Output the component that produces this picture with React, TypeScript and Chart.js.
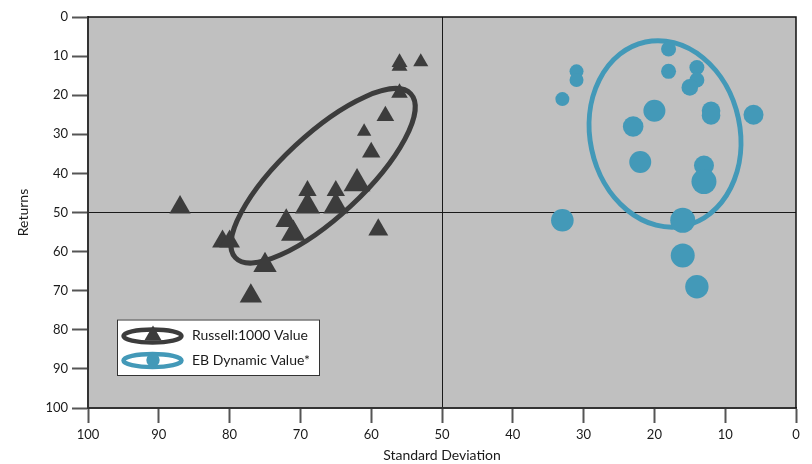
import React, { useEffect, useRef } from 'react';
import { Chart, registerables } from 'chart.js';

Chart.register(...registerables);

// ---- data ----
const seriesLabels = ['Russell:1000 Value', 'EB Dynamic Value*'];

const russellStdDev = [56, 56, 53, 56, 58, 61, 60, 62, 69, 69, 65, 65, 59, 87, 81, 80, 75, 77, 72, 71];
const russellReturns = [11.6, 12.6, 11.5, 19.4, 25.3, 29.3, 34.6, 42.6, 44.4, 48.4, 44.4, 48.4, 54.4, 48.7, 57.4, 57.4, 63.5, 71.4, 52.1, 55.4];
const russellSize = [9.2, 9.2, 8.7, 9.6, 10.2, 8.3, 10.6, 15.5, 10.6, 14.4, 10.6, 14.4, 11.5, 12.3, 12, 12, 13.5, 12.9, 12.5, 14.2];

const ebStdDev = [18, 18, 14, 14, 15, 31, 31, 33, 20, 23, 12, 12, 6, 22, 13, 13, 33, 16, 16, 14];
const ebReturns = [8.2, 13.9, 12.9, 16.1, 18, 13.9, 16.1, 21, 24, 28, 24, 25.2, 25, 37.1, 38, 42.1, 52, 52, 61, 69];
const ebSize = [7.5, 7.5, 7.5, 7.5, 8.3, 7, 7, 7, 11, 10.3, 9.3, 9.3, 10, 11, 10, 12.5, 11.3, 12.5, 12, 11.7];

const axisMin = 0;
const axisMax = 100;
const axisStep = 10;
const crossValue = 50;

// ---- styles ----
const FONT = 'Lato, "Open Sans", sans-serif';
const DARK = '#3c3c3c';
const BLUE = '#4399b8';
const TEXT = '#1a1a1a';

// ellipse annotations: centre in data units, radii in px
const ellipses = [
  { cx: 66.8, cy: 40.6, rx: 120, ry: 41, rotDeg: -43, color: DARK },
  { cx: 18.5, cy: 29.9, rx: 75, ry: 94, rotDeg: -12, color: BLUE },
];

const decorPlugin = {
  id: 'decor',
  beforeDraw(chart: any) {
    const { ctx, chartArea: a } = chart;
    ctx.save();
    ctx.fillStyle = '#c0c0c0';
    ctx.fillRect(a.left, a.top, a.right - a.left, a.bottom - a.top);
    ctx.restore();
  },
  beforeDatasetsDraw(chart: any) {
    const { ctx, chartArea: a } = chart;
    const xs = chart.scales.x;
    const ys = chart.scales.y;
    ctx.save();
    ctx.strokeStyle = '#111';
    ctx.lineWidth = 1.5;
    ctx.beginPath();
    ctx.moveTo(a.left, a.top);
    ctx.lineTo(a.right, a.top);
    ctx.lineTo(a.right, a.bottom);
    ctx.stroke();
    ellipses.forEach((e) => {
      ctx.beginPath();
      ctx.ellipse(xs.getPixelForValue(e.cx), ys.getPixelForValue(e.cy), e.rx, e.ry, (e.rotDeg * Math.PI) / 180, 0, Math.PI * 2);
      ctx.lineWidth = 5;
      ctx.strokeStyle = e.color;
      ctx.stroke();
    });
    ctx.restore();
  },
  afterDraw(chart: any) {
    const { ctx } = chart;
    const lx = 117, ly = 319.5, lw = 203, lh = 56.5;
    ctx.save();
    ctx.fillStyle = '#ffffff';
    ctx.fillRect(lx, ly, lw, lh);
    ctx.strokeStyle = '#333';
    ctx.lineWidth = 1;
    ctx.strokeRect(lx + 0.5, ly + 0.5, lw - 1, lh - 1);
    const rows = [335.5, 360];
    chart.data.datasets.forEach((ds: any, i: number) => {
      const cy = rows[i];
      const color = ds.backgroundColor;
      ctx.beginPath();
      ctx.ellipse(152.5, cy + 0.5, 29, 6.5, 0, 0, Math.PI * 2);
      ctx.lineWidth = 4.5;
      ctx.strokeStyle = color;
      ctx.stroke();
      ctx.fillStyle = color;
      ctx.beginPath();
      if (ds.pointStyle === 'triangle') {
        const r = 10;
        const x = 153, y = cy;
        ctx.moveTo(x, y - r);
        ctx.lineTo(x + r * Math.sin((2 * Math.PI) / 3), y + r * 0.5);
        ctx.lineTo(x - r * Math.sin((2 * Math.PI) / 3), y + r * 0.5);
        ctx.closePath();
      } else {
        ctx.arc(153, cy, 6.7, 0, Math.PI * 2);
      }
      ctx.fill();
      ctx.fillStyle = TEXT;
      ctx.font = `14px ${FONT}`;
      ctx.textBaseline = 'middle';
      ctx.textAlign = 'left';
      ctx.fillText(ds.label, 192, cy);
    });
    ctx.restore();
  },
};

export default function App() {
  const ref = useRef<HTMLCanvasElement | null>(null);

  useEffect(() => {
    if (!ref.current) return;
    const gridColor = (c: any) => (c.tick && c.tick.value === crossValue ? '#1a1a1a' : 'rgba(0,0,0,0)');
    const chart = new Chart(ref.current, {
      type: 'scatter',
      data: {
        datasets: [
          {
            label: seriesLabels[0],
            data: russellStdDev.map((x, i) => ({ x, y: russellReturns[i] })),
            pointStyle: 'triangle',
            pointRadius: russellSize,
            pointBorderWidth: 0,
            backgroundColor: DARK,
            borderColor: DARK,
          },
          {
            label: seriesLabels[1],
            data: ebStdDev.map((x, i) => ({ x, y: ebReturns[i] })),
            pointStyle: 'circle',
            pointRadius: ebSize,
            pointBorderWidth: 0,
            backgroundColor: BLUE,
            borderColor: BLUE,
          },
        ],
      } as any,
      options: {
        animation: false,
        responsive: false,
        layout: { padding: { top: 17, right: 16, left: 0, bottom: 0 } },
        plugins: { legend: { display: false }, tooltip: { enabled: false } },
        scales: {
          x: {
            type: 'linear',
            min: axisMin,
            max: axisMax,
            reverse: true,
            position: 'bottom',
            ticks: { stepSize: axisStep, font: { family: FONT, size: 13 }, color: TEXT, padding: 4, maxRotation: 0, autoSkip: false },
            grid: { color: gridColor, lineWidth: 1, tickColor: '#555', tickWidth: 2, tickLength: 15, drawTicks: true },
            border: { display: true, color: '#333', width: 2 },
            title: { display: true, text: 'Standard Deviation', font: { family: FONT, size: 14 }, color: TEXT, padding: { top: 0, bottom: 0 } },
            afterFit: (s: any) => { s.height = 56; },
          },
          y: {
            type: 'linear',
            min: axisMin,
            max: axisMax,
            reverse: true,
            position: 'left',
            ticks: { stepSize: axisStep, font: { family: FONT, size: 13 }, color: TEXT, padding: 4, autoSkip: false },
            grid: { color: gridColor, lineWidth: 1, tickColor: '#555', tickWidth: 2, tickLength: 16, drawTicks: true },
            border: { display: true, color: '#333', width: 2 },
            title: { display: true, text: 'Returns', font: { family: FONT, size: 14 }, color: TEXT, padding: { top: 15, bottom: 0 } },
            afterFit: (s: any) => { s.width = 88; },
          },
        },
      } as any,
      plugins: [decorPlugin],
    });
    return () => chart.destroy();
  }, []);

  return (
    <div style={{ position: 'absolute', left: 0, top: 0, width: 812, height: 464, background: '#fff' }}>
      <canvas ref={ref} width={812} height={464} />
    </div>
  );
}
